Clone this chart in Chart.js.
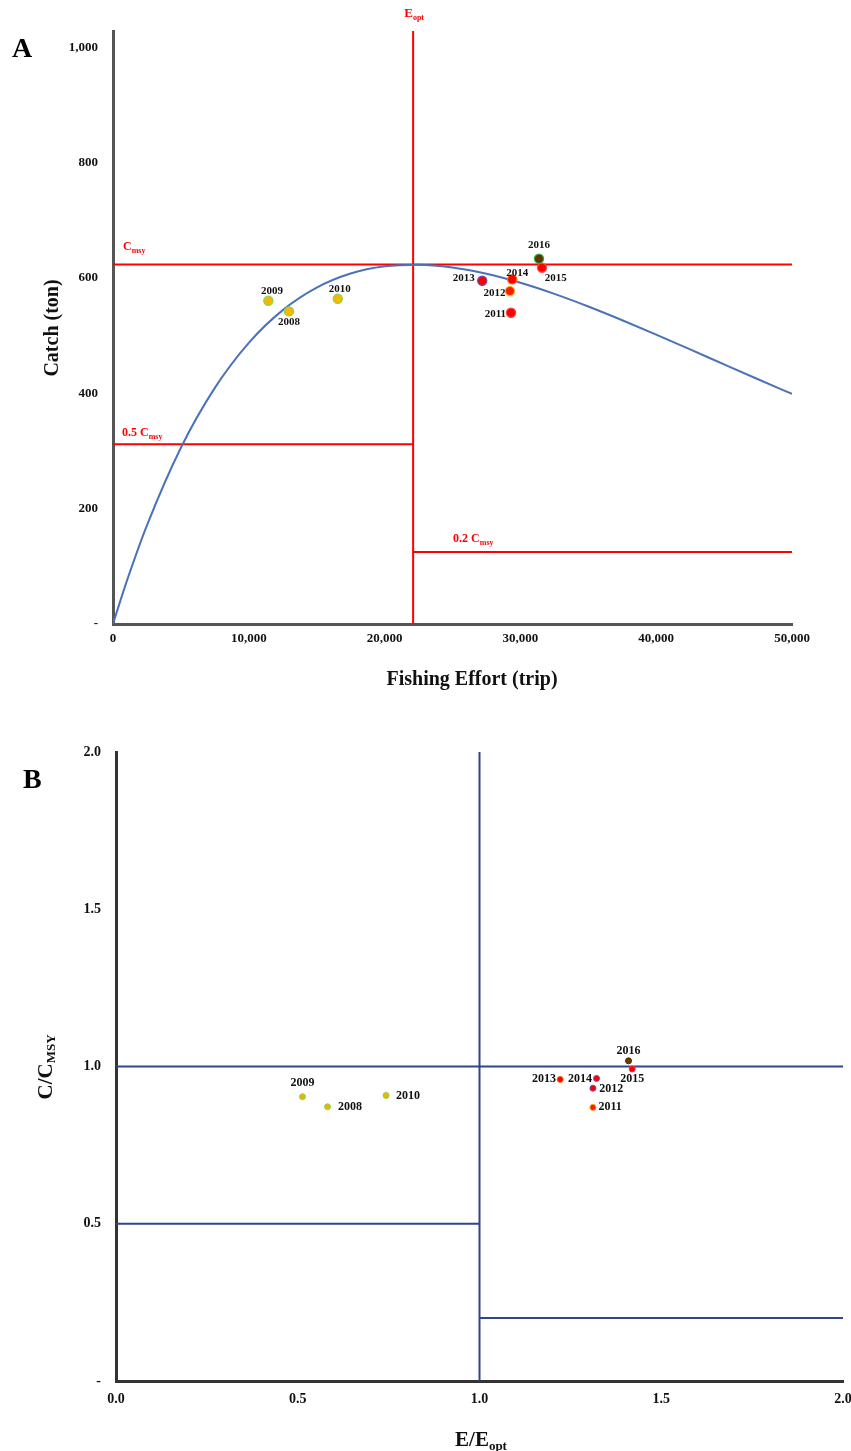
<!DOCTYPE html>
<html>
<head>
<meta charset="utf-8">
<script src="https://cdn.jsdelivr.net/npm/chart.js@4.4.1/dist/chart.umd.min.js"></script>
<style>
  body { margin: 0; background: #fff; width: 851px; height: 1451px; overflow: hidden; }
  canvas { position: absolute; left: 0; }
  #chartA { top: 0; }
  #chartB { top: 720px; }
</style>
</head>
<body>
<canvas id="chartA" width="851" height="720"></canvas>
<canvas id="chartB" width="851" height="731"></canvas>
<script>
// ---- data ----
const years = ["2008", "2009", "2010", "2011", "2012", "2013", "2014", "2015", "2016"];

// panel A: fishing effort (trip) vs catch (ton)
const effort = [12960, 11440, 16550, 29310, 29230, 27190, 29400, 31590, 31370];
const catchTon = [541.9, 560.3, 563.8, 539.5, 577.1, 595.0, 597.4, 617.5, 633.1];
const eOpt = 22100;
const cMsy = 623;
// production curve
const curveEffort = [0, 625, 1250, 2500, 5000, 7500, 10000, 12500, 15000, 17500, 20000, 22500,
  25000, 27500, 30000, 32500, 35000, 37500, 40000, 42500, 45000, 47500, 50000];
const curveCatch = [0, 46.6, 90.5, 171.1, 305.6, 409.3, 487.4, 544.1, 583.1, 607.5, 620.0, 622.9,
  618.1, 607.2, 591.5, 572.3, 550.4, 526.6, 501.7, 476.0, 450.1, 424.3, 398.8];
const effortTicks = [0, 10000, 20000, 30000, 40000, 50000];
const catchTicks = [0, 200, 400, 600, 800, 1000];

// panel B: E/Eopt vs C/Cmsy
const ratioE = [0.582, 0.513, 0.743, 1.312, 1.312, 1.222, 1.322, 1.420, 1.410];
const ratioC = [0.872, 0.904, 0.908, 0.870, 0.931, 0.959, 0.962, 0.992, 1.018];
const ratioTicks = [0, 0.5, 1.0, 1.5, 2.0];

// ---- styles ----
const SERIF = '"Liberation Serif", "Times New Roman", serif';
const fillA = ["#f5b800", "#f5b800", "#f5b800", "#ff0000", "#ff1a00", "#ff0000", "#ff0000", "#ff0000", "#5a3800"];
const edgeA = ["#8fd14f", "#8fd14f", "#8fd14f", "#ff4040", "#ffb000", "#6a4aa8", "#ff6a00", "#ff5050", "#3caa3c"];
const fillB = ["#e8b800", "#e8b800", "#e8b800", "#ff1a00", "#ff0000", "#ff0000", "#ff0000", "#ff0000", "#6b3c00"];
const edgeB = ["#8fd14f", "#8fd14f", "#8fd14f", "#ff9900", "#7a4ab0", "#ff6600", "#7a4ab0", "#ff3030", "#4a2a00"];
// year label offsets from each point: [dx, dy, align]
const labelA = [[0, 11, "center"], [3.7, -9.5, "center"], [2, -10, "center"], [-5, 1, "right"], [-4.5, 2, "right"],
  [-7.6, -2.7, "right"], [5, -6.6, "center"], [13.7, 10.3, "center"], [0, -13.7, "center"]];
const labelB = [[10.4, 0, "left"], [0, -13.4, "center"], [10, 0, "left"], [5.6, 0, "left"], [6.3, 1, "left"],
  [-4.3, 0, "right"], [-4.6, 0, "right"], [0, 9.7, "center"], [0, -10, "center"]];

const RED = "#ff0000";
const NAVY = "#2f4590";

Chart.defaults.font.family = SERIF;
Chart.defaults.animation = false;

function pts(xs, ys) {
  return xs.map((x, i) => ({ x: x, y: ys[i] }));
}

function segment(x0, y0, x1, y1, color) {
  return {
    type: "line",
    data: [{ x: x0, y: y0 }, { x: x1, y: y1 }],
    borderColor: color,
    borderWidth: 2,
    pointRadius: 0,
    fill: false,
    clip: false,
    order: 2,
  };
}

// text with subscript parts: [[text, size, dy]]
function subText(ctx, x, y, parts, align, color) {
  let w = 0;
  parts.forEach(p => {
    ctx.font = "bold " + p[1] + "px " + SERIF;
    w += ctx.measureText(p[0]).width;
  });
  let cx = align === "center" ? x - w / 2 : x;
  ctx.fillStyle = color;
  ctx.textAlign = "left";
  ctx.textBaseline = "alphabetic";
  parts.forEach(p => {
    ctx.font = "bold " + p[1] + "px " + SERIF;
    ctx.fillText(p[0], cx, y + p[2]);
    cx += ctx.measureText(p[0]).width;
  });
}

function yearLabels(chart, xs, ys, offsets, size) {
  const ctx = chart.ctx;
  const sx = chart.scales.x, sy = chart.scales.y;
  ctx.save();
  ctx.font = "bold " + size + "px " + SERIF;
  ctx.fillStyle = "#111";
  ctx.textBaseline = "middle";
  years.forEach((yr, i) => {
    const o = offsets[i];
    ctx.textAlign = o[2];
    ctx.fillText(yr, sx.getPixelForValue(xs[i]) + o[0], sy.getPixelForValue(ys[i]) + o[1]);
  });
  ctx.restore();
}

function fixedScale(ticks, fmt, size, pad, fitKey, fitVal) {
  return {
    type: "linear",
    afterBuildTicks: s => { s.ticks = ticks.map(v => ({ value: v })); },
    afterFit: s => {
      s[fitKey] = fitVal;
      // let the end labels overhang instead of shrinking the plot
      s.paddingLeft = 0; s.paddingRight = 0; s.paddingTop = 0; s.paddingBottom = 0;
    },
    grid: { display: false, drawTicks: false },
    border: { display: true, color: "#555", width: 3 },
    ticks: {
      callback: fmt,
      color: "#111",
      padding: pad,
      maxRotation: 0,
      autoSkip: false,
      font: { size: size, weight: "bold", family: SERIF },
    },
  };
}

// ---------------- panel A ----------------
const fmtThousands = v => v.toLocaleString("en-US");
const fmtDashA = v => (v === 0 ? "-" : v.toLocaleString("en-US"));

const xA = fixedScale(effortTicks, fmtThousands, 13, 7, "height", 96);
xA.min = 0; xA.max = 50000;
const yA = fixedScale(catchTicks, fmtDashA, 13, 15, "width", 113);
yA.min = 0; yA.max = 1028;

const textA = {
  id: "textA",
  afterDraw(chart) {
    const ctx = chart.ctx;
    const sx = chart.scales.x, sy = chart.scales.y;
    const area = chart.chartArea;
    ctx.save();
    ctx.font = "bold 28px " + SERIF;
    ctx.fillStyle = "#000";
    ctx.textAlign = "left";
    ctx.textBaseline = "alphabetic";
    ctx.fillText("A", 12, 57);

    const ex = sx.getPixelForValue(eOpt);
    subText(ctx, ex + 1, 17, [["E", 13, 0], ["opt", 8, 3]], "center", RED);
    subText(ctx, area.left + 10, sy.getPixelForValue(cMsy) - 15, [["C", 12, 0], ["msy", 8, 3]], "left", RED);
    subText(ctx, area.left + 9, sy.getPixelForValue(cMsy * 0.5) - 8, [["0.5 C", 12, 0], ["msy", 8, 3]], "left", RED);
    subText(ctx, ex + 40, sy.getPixelForValue(cMsy * 0.2) - 10, [["0.2 C", 12, 0], ["msy", 8, 3]], "left", RED);

    subText(ctx, 472, 685, [["Fishing Effort (trip)", 20, 0]], "center", "#111");
    ctx.translate(58, 328);
    ctx.rotate(-Math.PI / 2);
    subText(ctx, 0, 0, [["Catch (ton)", 20, 0]], "center", "#111");
    ctx.restore();

    yearLabels(chart, effort, catchTon, labelA, 11);
  },
};

new Chart(document.getElementById("chartA"), {
  type: "scatter",
  data: {
    datasets: [
      {
        type: "scatter",
        data: pts(effort, catchTon),
        backgroundColor: fillA,
        borderColor: edgeA,
        borderWidth: 1.2,
        pointRadius: 4.6,
        order: 0,
      },
      {
        type: "line",
        data: pts(curveEffort, curveCatch),
        borderColor: "#4a72b8",
        borderWidth: 2,
        pointRadius: 0,
        cubicInterpolationMode: "monotone",
        fill: false,
        order: 1,
      },
      segment(eOpt, 0, eOpt, 1028, RED),
      segment(0, cMsy, 50000, cMsy, RED),
      segment(0, cMsy * 0.5, eOpt, cMsy * 0.5, RED),
      segment(eOpt, cMsy * 0.2, 50000, cMsy * 0.2, RED),
    ],
  },
  options: {
    responsive: false,
    devicePixelRatio: 1,
    layout: { padding: { top: 31, right: 59, left: 0, bottom: 0 } },
    plugins: { legend: { display: false }, tooltip: { enabled: false } },
    scales: { x: xA, y: yA },
  },
  plugins: [textA],
});

// ---------------- panel B ----------------
const fmtOne = v => v.toFixed(1);
const fmtDashB = v => (v === 0 ? "-" : v.toFixed(1));

const xB = fixedScale(ratioTicks, fmtOne, 14, 10, "height", 70);
xB.min = 0; xB.max = 2;
xB.border.color = "#333";
const yB = fixedScale(ratioTicks, fmtDashB, 14, 15, "width", 116);
yB.min = 0; yB.max = 2;
yB.border.color = "#333";

const textB = {
  id: "textB",
  afterDraw(chart) {
    const ctx = chart.ctx;
    ctx.save();
    ctx.font = "bold 28px " + SERIF;
    ctx.fillStyle = "#000";
    ctx.textAlign = "left";
    ctx.textBaseline = "alphabetic";
    ctx.fillText("B", 23, 68);

    subText(ctx, 481, 726, [["E/E", 21, 0], ["opt", 13, 4]], "center", "#111");
    ctx.translate(52, 347);
    ctx.rotate(-Math.PI / 2);
    subText(ctx, 0, 0, [["C/C", 21, 0], ["MSY", 13, 3]], "center", "#111");
    ctx.restore();

    yearLabels(chart, ratioE, ratioC, labelB, 12);
  },
};

new Chart(document.getElementById("chartB"), {
  type: "scatter",
  data: {
    datasets: [
      {
        type: "scatter",
        data: pts(ratioE, ratioC),
        backgroundColor: fillB,
        borderColor: edgeB,
        borderWidth: 1,
        pointRadius: 3,
        order: 0,
      },
      segment(1, 0, 1, 2, NAVY),
      segment(0, 1, 2, 1, NAVY),
      segment(0, 0.5, 1, 0.5, NAVY),
      segment(1, 0.2, 2, 0.2, NAVY),
    ],
  },
  options: {
    responsive: false,
    devicePixelRatio: 1,
    layout: { padding: { top: 32, right: 8, left: 0, bottom: 0 } },
    plugins: { legend: { display: false }, tooltip: { enabled: false } },
    scales: { x: xB, y: yB },
  },
  plugins: [textB],
});
</script>
</body>
</html>
